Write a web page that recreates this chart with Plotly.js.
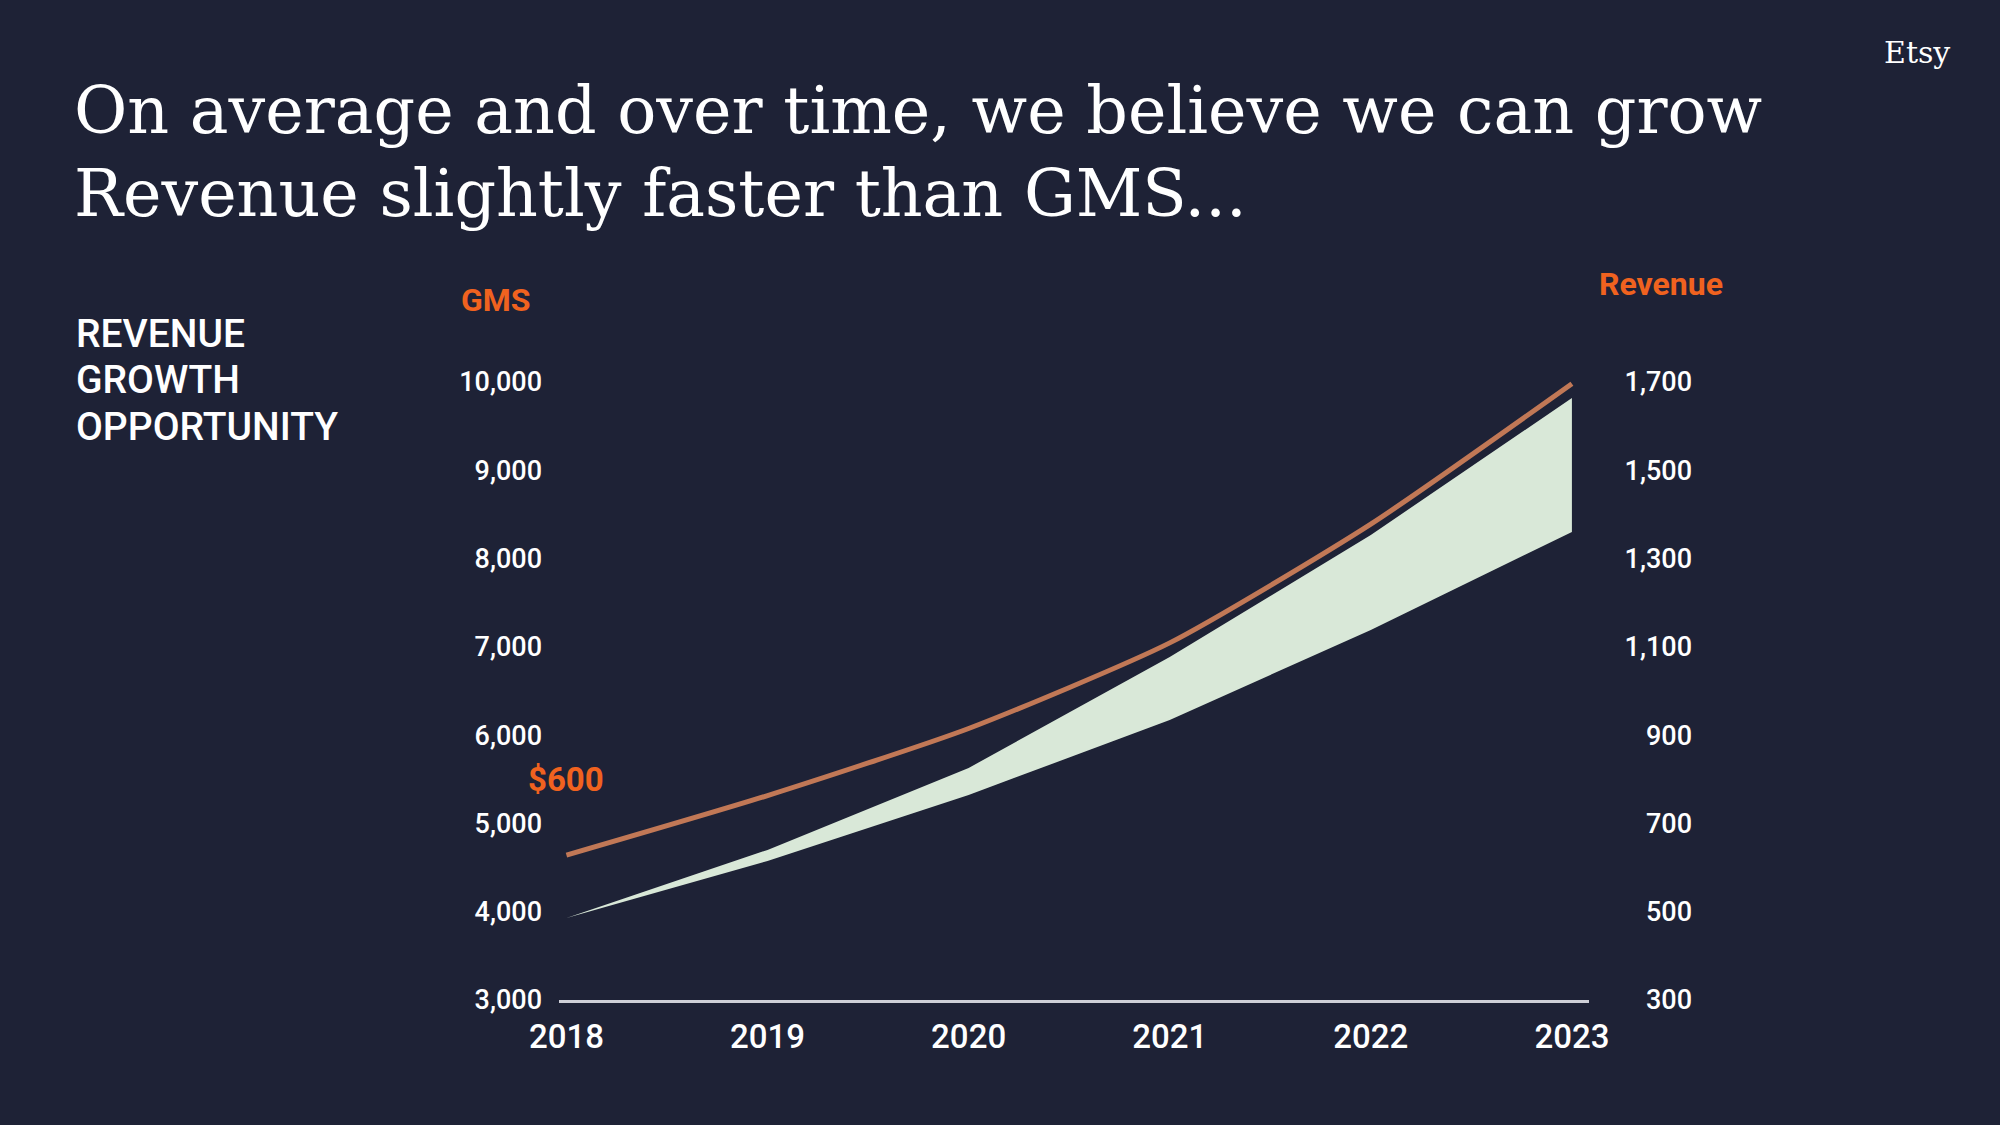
<!DOCTYPE html>
<html>
<head>
<meta charset="utf-8">
<script src="https://cdn.plot.ly/plotly-3.0.1.min.js"></script>
<style>
  html, body { margin: 0; padding: 0; background: #1e2236; }
  #chart { width: 2000px; height: 1125px; }
</style>
</head>
<body>
<div id="chart"></div>
<script>
// ---- data ----
const years = [2018, 2019, 2020, 2021, 2022, 2023];
const yearLabels = ['2018', '2019', '2020', '2021', '2022', '2023'];
const revenue = [628, 763, 915, 1109, 1378, 1696];      // right axis (orange line)
const gmsLow = [3929, 4574, 5322, 6171, 7191, 8301];     // lower edge of band (left axis)
const gmsHigh = [3929, 4700, 5628, 6885, 8267, 9818];    // upper edge of band (left axis)
const gmsTicks = [3000, 4000, 5000, 6000, 7000, 8000, 9000, 10000];
const gmsTickText = ['3,000', '4,000', '5,000', '6,000', '7,000', '8,000', '9,000', '10,000'];
const revTicks = [300, 500, 700, 900, 1100, 1300, 1500, 1700];
const revTickText = ['300', '500', '700', '900', '1,100', '1,300', '1,500', '1,700'];
const titleLines = ['On average and over time, we believe we can grow', 'Revenue slightly faster than GMS...'];
const sideLines = ['REVENUE', 'GROWTH', 'OPPORTUNITY'];

// ---- layout geometry ----
const W = 2000, H = 1125;
const M = { l: 559, r: 300, t: 370, b: 125 };
const PW = W - M.l - M.r, PH = H - M.t - M.b;
const px = x => (x - M.l) / PW;          // pixel -> paper x
const py = y => (H - M.b - y) / PH;      // pixel -> paper y

const BG = '#1e2236';
const ORANGE = '#f0621f';
const LINE = '#c17856';
const FILL = '#d9e8d8';

const traces = [
  { x: years, y: gmsLow, type: 'scatter', mode: 'lines', line: { width: 0, color: FILL },
    hoverinfo: 'skip', showlegend: false, yaxis: 'y' },
  { x: years, y: gmsHigh, type: 'scatter', mode: 'lines', line: { width: 0, color: FILL },
    fill: 'tonexty', fillcolor: FILL, hoverinfo: 'skip', showlegend: false, yaxis: 'y' },
  { x: years, y: revenue, type: 'scatter', mode: 'lines',
    line: { width: 5, color: LINE, shape: 'spline', smoothing: 0.6 },
    showlegend: false, yaxis: 'y2' }
];

const annotations = [];
titleLines.forEach((t, i) => annotations.push({
  text: t, xref: 'paper', yref: 'paper', x: px(72), y: py([111, 193][i]),
  xanchor: 'left', yanchor: 'middle', showarrow: false,
  font: { family: 'DejaVu Serif', size: 65, color: '#ffffff' }
}));
sideLines.forEach((t, i) => annotations.push({
  text: t, xref: 'paper', yref: 'paper', x: px(74), y: py([334, 380, 427][i]),
  xanchor: 'left', yanchor: 'middle', showarrow: false,
  font: { family: 'Roboto', size: 39, weight: 500, color: '#ffffff' }
}));
annotations.push({
  text: 'Etsy', xref: 'paper', yref: 'paper', x: px(1917), y: py(52),
  xanchor: 'center', yanchor: 'middle', showarrow: false,
  font: { family: 'DejaVu Serif', size: 30, color: '#ffffff' }
});
annotations.push({
  text: '<b>GMS</b>', xref: 'paper', yref: 'paper', x: px(496), y: py(300),
  xanchor: 'center', yanchor: 'middle', showarrow: false,
  font: { family: 'Roboto', size: 32, color: ORANGE }
});
annotations.push({
  text: '<b>Revenue</b>', xref: 'paper', yref: 'paper', x: px(1661), y: py(284),
  xanchor: 'center', yanchor: 'middle', showarrow: false,
  font: { family: 'Roboto', size: 32, color: ORANGE }
});
annotations.push({
  text: '<b>$600</b>', xref: 'x', yref: 'y2', x: years[0], y: revenue[0], yshift: 76,
  xanchor: 'center', yanchor: 'middle', showarrow: false,
  font: { family: 'Roboto', size: 33, color: ORANGE }
});

const yTop = 3000 + PH / 0.08829;
const layout = {
  width: W, height: H,
  margin: M,
  paper_bgcolor: BG, plot_bgcolor: BG,
  showlegend: false,
  xaxis: {
    domain: [0, px(1589)],
    range: [2017.963, 2023.085],
    tickvals: years, ticktext: yearLabels,
    showgrid: false, zeroline: false,
    showline: true, linecolor: '#cfd0d8', linewidth: 2.5,
    ticks: '', ticklabelstandoff: 6,
    tickfont: { family: 'Roboto', size: 33, weight: 500, color: '#ffffff' }
  },
  yaxis: {
    range: [3000, yTop],
    tickvals: gmsTicks, ticktext: gmsTickText,
    showgrid: false, zeroline: false, showline: false,
    ticks: '', ticklabelstandoff: 16,
    tickfont: { family: 'Roboto', size: 27, weight: 500, color: '#ffffff' }
  },
  yaxis2: {
    range: [300, 300 + (yTop - 3000) / 5],
    overlaying: 'y', anchor: 'free', position: 1, side: 'left',
    tickvals: revTicks, ticktext: revTickText,
    showgrid: false, zeroline: false, showline: false,
    ticks: '', ticklabelstandoff: 8,
    tickfont: { family: 'Roboto', size: 27, weight: 500, color: '#ffffff' }
  },
  annotations: annotations
};

Plotly.newPlot('chart', traces, layout, { displayModeBar: false, staticPlot: true });
</script>
</body>
</html>
